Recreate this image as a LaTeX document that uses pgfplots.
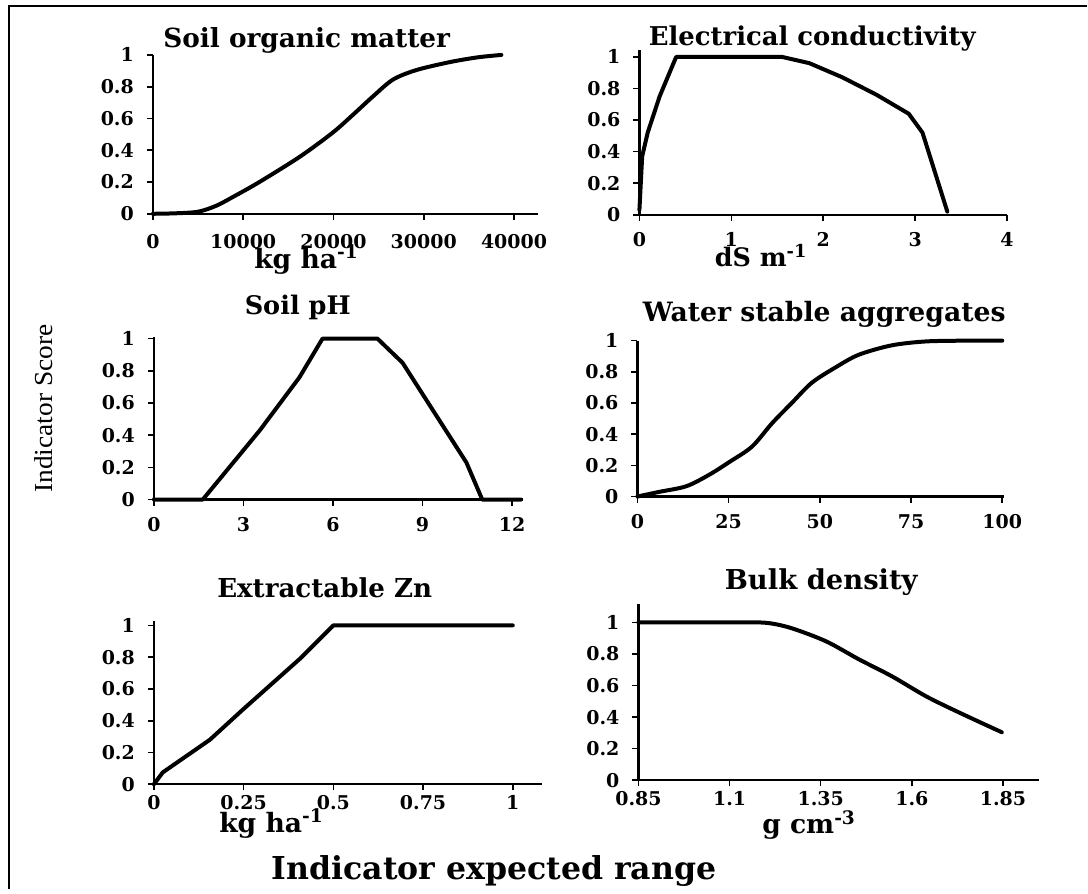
\documentclass[border=0pt]{standalone}
\usepackage{fontspec}
\setmainfont{DejaVu Serif}
\newfontfamily\scorefont{Liberation Serif}
\usepackage{pgfplots}
\pgfplotsset{compat=1.18}

\pgfplotsset{
  panel/.style={
    scale only axis,
    anchor=south west,
    axis lines=left,
    axis line style={-, line width=1.2pt},
    tick align=outside,
    major tick length=3pt,
    tick style={line width=0.8pt, black},
    scaled x ticks=false,
    ymin=0,
    ytick={0,0.2,0.4,0.6,0.8,1},
    yticklabels={0,0.2,0.4,0.6,0.8,1},
    ticklabel style={font=\bfseries\fontsize{9.5}{11}\selectfont},
    yticklabel style={xshift=-3pt},
    xticklabel style={yshift=-4pt},
    clip=false,
  },
  midrow/.style={xticklabel style={yshift=1.5pt}},
  lowrow/.style={xticklabel style={yshift=5pt}},
  curve/.style={black, line width=2pt, line join=round, line cap=round, no markers},
}

\begin{document}
\begin{tikzpicture}
\path (0pt,0pt) rectangle (544pt,445pt);
\draw[line width=1pt] (4.5pt,0pt) -- (4.5pt,442pt) -- (544pt,442pt);

% Soil organic matter
\begin{axis}[panel, at={(76.5pt,338pt)}, width=192.5pt, height=79.5pt,
  xmin=0, xmax=42600, ymax=1,
  xtick={0,10000,20000,30000,40000}, xticklabels={0,10000,20000,30000,40000}]
\addplot[curve, smooth] coordinates {
  (0,0) (2500,0.003) (5000,0.013) (7000,0.05) (9000,0.11) (11800,0.2)
  (16300,0.36) (19900,0.51) (22100,0.62) (24400,0.74) (26600,0.845)
  (29200,0.905) (32900,0.955) (36000,0.985) (38600,1.0)};
\end{axis}

% Electrical conductivity
\begin{axis}[panel, midrow, at={(320pt,337.5pt)}, width=184pt, height=82.5pt,
  xmin=0, xmax=4, ymax=1.044,
  xtick={0,1,2,3,4}, xticklabels={0,1,2,3,4}]
\addplot[curve] coordinates {
  (0,0.03) (0.03,0.37) (0.09,0.52) (0.22,0.75) (0.40,1.0) (1.55,1.0)
  (1.85,0.96) (2.21,0.87) (2.58,0.76) (2.93,0.64) (3.08,0.52) (3.35,0.02)};
\end{axis}

% Soil pH
\begin{axis}[panel, midrow, at={(77pt,195pt)}, width=184.5pt, height=81.5pt,
  xmin=0, xmax=12.35, ymax=1.012,
  xtick={0,3,6,9,12}, xticklabels={0,3,6,9,12}]
\addplot[curve] coordinates {
  (0,0) (1.64,0) (3.55,0.43) (4.88,0.76) (5.65,1) (7.49,1) (8.33,0.85)
  (9.33,0.56) (10.47,0.23) (11.0,0) (12.3,0)};
\end{axis}

% Water stable aggregates
\begin{axis}[panel, midrow, at={(319pt,196.5pt)}, width=183.5pt, height=78pt,
  xmin=0, xmax=100.5, ymax=1,
  xtick={0,25,50,75,100}, xticklabels={0,25,50,75,100}]
\addplot[curve, smooth] coordinates {
  (0,0) (6,0.03) (13.4,0.066) (19.7,0.14) (25.1,0.22) (31.4,0.32)
  (36.9,0.47) (42.3,0.60) (47.8,0.73) (54.4,0.83) (60.7,0.91)
  (69.7,0.97) (79,0.995) (90,1.0) (100,1.0)};
\end{axis}

% Extractable Zn
\begin{axis}[panel, lowrow, at={(77pt,52.5pt)}, width=194pt, height=81.5pt,
  xmin=0, xmax=1.08, ymax=1.025,
  xtick={0,0.25,0.5,0.75,1}, xticklabels={0,0.25,0.5,0.75,1}]
\addplot[curve] coordinates {
  (0,0) (0.025,0.075) (0.156,0.28) (0.248,0.47) (0.407,0.79) (0.5,1) (1.0,1)};
\end{axis}

% Bulk density
\begin{axis}[panel, lowrow, at={(319.5pt,54.5pt)}, width=200.5pt, height=88pt,
  xmin=0.85, xmax=1.949, ymax=1.114,
  xtick={0.85,1.1,1.35,1.6,1.85}, xticklabels={0.85,1.1,1.35,1.6,1.85}]
\addplot[curve, smooth] coordinates {
  (0.85,1) (1.15,1) (1.21,0.995) (1.272,0.962) (1.365,0.88) (1.455,0.766)
  (1.546,0.658) (1.639,0.532) (1.729,0.43) (1.847,0.304)};
\end{axis}

% titles
\node at (153.5pt,425pt) {\resizebox{143.5pt}{!}{\bfseries Soil organic matter}};
\node at (406.5pt,425.5pt) {\resizebox{163.5pt}{!}{\bfseries Electrical conductivity}};
\node at (149pt,291pt) {\resizebox{53pt}{!}{\bfseries Soil pH}};
\node at (412.5pt,287.5pt) {\resizebox{181.5pt}{!}{\bfseries Water stable aggregates}};
\node at (162.5pt,151pt) {\resizebox{107.5pt}{!}{\bfseries Extractable Zn}};
\node at (411pt,153.5pt) {\resizebox{96.5pt}{!}{\bfseries Bulk density}};

% unit labels
\node at (153.5pt,315pt) {\resizebox{52.5pt}{!}{\bfseries kg ha\textsuperscript{-1}}};
\node at (381pt,317pt) {\resizebox{46.5pt}{!}{\bfseries dS m\textsuperscript{-1}}};
\node at (136pt,33pt) {\resizebox{52.5pt}{!}{\bfseries kg ha\textsuperscript{-1}}};
\node at (405pt,32pt) {\resizebox{47pt}{!}{\bfseries g cm\textsuperscript{-3}}};

% shared labels
\node[rotate=90] at (22pt,240.5pt) {\resizebox{84pt}{9pt}{\scorefont Indicator Score}};
\node at (247.25pt,9pt) {\resizebox{222.5pt}{!}{\bfseries Indicator expected range}};
\end{tikzpicture}
\end{document}
